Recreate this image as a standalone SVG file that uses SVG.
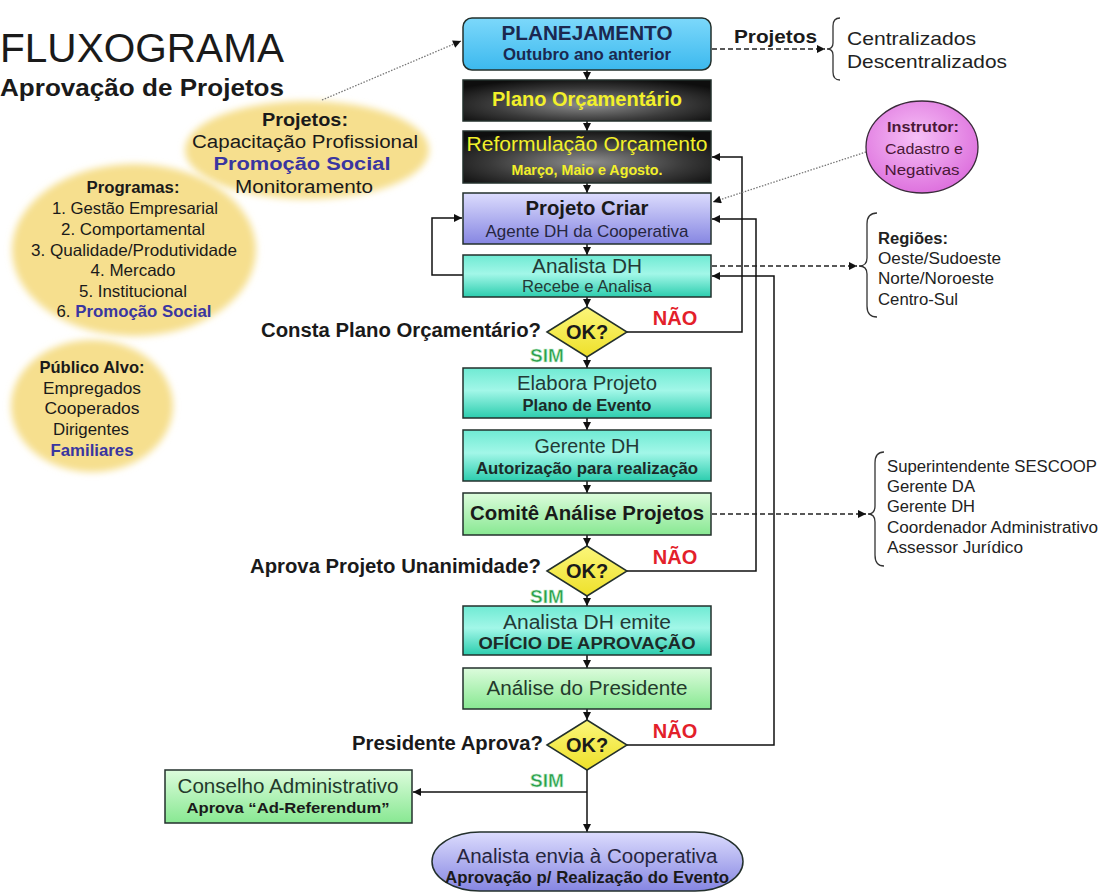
<svg xmlns="http://www.w3.org/2000/svg" width="1101" height="892" viewBox="0 0 1101 892">
  <defs>
    <style>
      text { font-family: "Liberation Sans", Arial, sans-serif; fill: #1a1a1a; }
      .b { font-weight: bold; }
      .mid { text-anchor: middle; }
      .end { text-anchor: end; }
      .box { stroke: #23302c; stroke-width: 1.5; }
      .yel { fill: #f2f02a; }
      .blue { fill: #3a36a0; }
      .nao { fill: #e3202a; font-weight: bold; font-size: 20px; text-anchor: middle; }
      .sim { fill: #2a9d4c; font-weight: bold; font-size: 19px; text-anchor: middle; stroke: #c8f0d0; stroke-width: 0.6; }
      .cond { font-weight: bold; font-size: 20px; text-anchor: end; }
      .ok { font-weight: bold; font-size: 20px; text-anchor: middle; }
      .list { font-size: 16px; fill: #222; }
      .line { fill: none; stroke: #111; stroke-width: 1.5; }
      .dash { fill: none; stroke: #222; stroke-width: 1.3; stroke-dasharray: 5 3; }
      .dot { fill: none; stroke: #777; stroke-width: 1.3; stroke-dasharray: 1.5 1.5; }
      .brace { fill: none; stroke: #333; stroke-width: 1.3; }
    </style>
    <marker id="arr" viewBox="0 0 10 10" refX="10" refY="5" markerWidth="9" markerHeight="8" markerUnits="userSpaceOnUse" orient="auto">
      <path d="M0,0 L10,5 L0,10 z" fill="#111"/>
    </marker>
    <linearGradient id="gSky" x1="0" y1="0" x2="0" y2="1">
      <stop offset="0" stop-color="#7cd8fb"/>
      <stop offset="1" stop-color="#3cb9ee"/>
    </linearGradient>
    <radialGradient id="gDark" cx="0.5" cy="0.6" r="0.65">
      <stop offset="0" stop-color="#8e8e8e"/>
      <stop offset="0.6" stop-color="#3a3a3a"/>
      <stop offset="1" stop-color="#0e0e0e"/>
    </radialGradient>
    <linearGradient id="gLav" x1="0" y1="0" x2="0" y2="1">
      <stop offset="0" stop-color="#dcdcfd"/>
      <stop offset="1" stop-color="#8686e2"/>
    </linearGradient>
    <linearGradient id="gCyan" x1="0" y1="0" x2="0" y2="1">
      <stop offset="0" stop-color="#6fead3"/>
      <stop offset="0.45" stop-color="#a2f7e8"/>
      <stop offset="1" stop-color="#2ccdae"/>
    </linearGradient>
    <linearGradient id="gGreen" x1="0" y1="0" x2="0" y2="1">
      <stop offset="0" stop-color="#dcfcdc"/>
      <stop offset="1" stop-color="#88e892"/>
    </linearGradient>
    <linearGradient id="gDia" x1="0" y1="0" x2="0" y2="1">
      <stop offset="0" stop-color="#fbf67a"/>
      <stop offset="1" stop-color="#eee02a"/>
    </linearGradient>
    <radialGradient id="gPink" cx="0.45" cy="0.4" r="0.6">
      <stop offset="0" stop-color="#f6c0f6"/>
      <stop offset="1" stop-color="#de72de"/>
    </radialGradient>
    <filter id="soft" x="-10%" y="-10%" width="120%" height="120%">
      <feGaussianBlur stdDeviation="3.5"/>
    </filter>
  </defs>

  <rect width="1101" height="892" fill="#ffffff"/>

  <!-- title -->
  <g id="title">
    <text x="0" y="62" font-size="40" textLength="284" lengthAdjust="spacingAndGlyphs">FLUXOGRAMA</text>
    <text x="0" y="96" font-size="24" class="b" textLength="284" lengthAdjust="spacingAndGlyphs">Aprovação de Projetos</text>
  </g>

  <!-- yellow info bubbles -->
  <g id="bubble-projetos">
    <ellipse cx="307" cy="150" rx="122" ry="49" fill="#f6df8e" filter="url(#soft)"/>
    <text x="305" y="126" font-size="18" class="b mid" textLength="86" lengthAdjust="spacingAndGlyphs">Projetos:</text>
    <text x="305" y="148" font-size="18" class="mid" textLength="226" lengthAdjust="spacingAndGlyphs">Capacitação Profissional</text>
    <text x="302" y="170" font-size="18" class="b mid blue" textLength="177" lengthAdjust="spacingAndGlyphs">Promoção Social</text>
    <text x="304" y="193" font-size="18" class="mid" textLength="138" lengthAdjust="spacingAndGlyphs">Monitoramento</text>
  </g>

  <g id="bubble-programas">
    <ellipse cx="134" cy="250" rx="122" ry="86" fill="#f6df8e" filter="url(#soft)"/>
    <text x="133" y="193" font-size="16" class="b mid" textLength="93" lengthAdjust="spacingAndGlyphs">Programas:</text>
    <text x="135" y="214" font-size="16.5" class="mid" textLength="166" lengthAdjust="spacingAndGlyphs">1. Gestão Empresarial</text>
    <text x="133" y="235" font-size="16.5" class="mid" textLength="144" lengthAdjust="spacingAndGlyphs">2. Comportamental</text>
    <text x="134" y="256" font-size="16.5" class="mid" textLength="206" lengthAdjust="spacingAndGlyphs">3. Qualidade/Produtividade</text>
    <text x="133" y="276" font-size="16.5" class="mid" textLength="85" lengthAdjust="spacingAndGlyphs">4. Mercado</text>
    <text x="133" y="297" font-size="16.5" class="mid" textLength="108" lengthAdjust="spacingAndGlyphs">5. Institucional</text>
    <text x="134" y="317" font-size="16.5" class="mid" textLength="155" lengthAdjust="spacingAndGlyphs">6. <tspan class="b blue">Promoção Social</tspan></text>
  </g>

  <g id="bubble-publico">
    <ellipse cx="92" cy="406" rx="81" ry="66" fill="#f6df8e" filter="url(#soft)"/>
    <text x="92" y="373" font-size="16.5" class="b mid" textLength="105" lengthAdjust="spacingAndGlyphs">Público Alvo:</text>
    <text x="92" y="394" font-size="16.5" class="mid" textLength="98" lengthAdjust="spacingAndGlyphs">Empregados</text>
    <text x="92" y="414" font-size="16.5" class="mid" textLength="95" lengthAdjust="spacingAndGlyphs">Cooperados</text>
    <text x="91" y="435" font-size="16.5" class="mid" textLength="76" lengthAdjust="spacingAndGlyphs">Dirigentes</text>
    <text x="92" y="456" font-size="16.5" class="b mid blue" textLength="83" lengthAdjust="spacingAndGlyphs">Familiares</text>
  </g>

  <!-- connectors -->
  <g id="connectors">
    <path class="line" d="M587 70 V80" marker-end="url(#arr)"/>
    <path class="line" d="M587 121 V131" marker-end="url(#arr)"/>
    <path class="line" d="M587 183 V193" marker-end="url(#arr)"/>
    <path class="line" d="M587 244 V255" marker-end="url(#arr)"/>
    <path class="line" d="M587 297 V307" marker-end="url(#arr)"/>
    <path class="line" d="M587 357 V368" marker-end="url(#arr)"/>
    <path class="line" d="M587 418 V430" marker-end="url(#arr)"/>
    <path class="line" d="M587 481 V493" marker-end="url(#arr)"/>
    <path class="line" d="M587 535 V546" marker-end="url(#arr)"/>
    <path class="line" d="M587 596 V606" marker-end="url(#arr)"/>
    <path class="line" d="M587 655 V668" marker-end="url(#arr)"/>
    <path class="line" d="M587 709 V720" marker-end="url(#arr)"/>
    <path class="line" d="M587 770 V832" marker-end="url(#arr)"/>
    <path class="line" d="M587 792 H413" marker-end="url(#arr)"/>
    <!-- return loops -->
    <path class="line" d="M627 332 H742 V157 H712" marker-end="url(#arr)"/>
    <path class="line" d="M627 571 H756 V219 H712" marker-end="url(#arr)"/>
    <path class="line" d="M627 745 H774 V276 H712" marker-end="url(#arr)"/>
    <path class="line" d="M463 275 H432 V218 H462" marker-end="url(#arr)"/>
    <!-- side references -->
    <path class="dash" d="M712 49 H825" marker-end="url(#arr)"/>
    <path class="dash" d="M712 266 H857" marker-end="url(#arr)"/>
    <path class="dash" d="M712 514 H866" marker-end="url(#arr)"/>
    <path class="dot" d="M322 100 L461 41" marker-end="url(#arr)"/>
    <path class="dot" d="M866 152 L713 202" marker-end="url(#arr)"/>
    <!-- braces -->
    <path class="brace" d="M840 18 Q833 18 833 26 L833 43 Q833 49 827 49 Q833 49 833 55 L833 72 Q833 80 840 80"/>
    <path class="brace" d="M877 213 Q867 213 867 224 L867 258 Q867 266 859 266 Q867 266 867 274 L867 306 Q867 317 877 317"/>
    <path class="brace" d="M884 452 Q875 452 875 463 L875 506 Q875 514 868 514 Q875 514 875 522 L875 555 Q875 566 884 566"/>
  </g>

  <!-- main column -->
  <g id="planejamento">
    <rect x="463" y="18" width="248" height="52" rx="9" fill="url(#gSky)" class="box"/>
    <text x="587" y="40" font-size="20" class="b mid" style="fill:#1b2850" textLength="171" lengthAdjust="spacingAndGlyphs">PLANEJAMENTO</text>
    <text x="587" y="60" font-size="16.5" class="b mid" style="fill:#1b2850" textLength="168" lengthAdjust="spacingAndGlyphs">Outubro ano anterior</text>
  </g>

  <g id="plano-orcamentario">
    <rect x="463" y="80" width="248" height="41" fill="url(#gDark)" class="box"/>
    <text x="587" y="106" font-size="20" class="b mid yel" textLength="190" lengthAdjust="spacingAndGlyphs">Plano Orçamentário</text>
  </g>

  <g id="reformulacao">
    <rect x="463" y="131" width="248" height="52" fill="url(#gDark)" class="box"/>
    <text x="587" y="151" font-size="20" class="mid yel" textLength="241" lengthAdjust="spacingAndGlyphs">Reformulação Orçamento</text>
    <text x="587" y="175" font-size="15" class="b mid yel" textLength="151" lengthAdjust="spacingAndGlyphs">Março, Maio e Agosto.</text>
  </g>

  <g id="projeto-criar">
    <rect x="463" y="193" width="248" height="51" fill="url(#gLav)" class="box"/>
    <text x="587" y="215" font-size="20" class="b mid" textLength="123" lengthAdjust="spacingAndGlyphs">Projeto Criar</text>
    <text x="587" y="237" font-size="17" class="mid" style="fill:#262640" textLength="203" lengthAdjust="spacingAndGlyphs">Agente DH da Cooperativa</text>
  </g>

  <g id="analista-dh">
    <rect x="463" y="255" width="248" height="42" fill="url(#gCyan)" class="box"/>
    <text x="587" y="273" font-size="20" class="mid" style="fill:#233a36" textLength="110" lengthAdjust="spacingAndGlyphs">Analista DH</text>
    <text x="587" y="292" font-size="16.5" class="mid" style="fill:#233a36" textLength="130" lengthAdjust="spacingAndGlyphs">Recebe e Analisa</text>
  </g>

  <g id="decisao-plano">
    <polygon points="547,332 587,307 627,332 587,357" fill="url(#gDia)" class="box"/>
    <text x="587" y="339" class="ok">OK?</text>
    <text x="541" y="337" class="cond" textLength="280" lengthAdjust="spacingAndGlyphs">Consta Plano Orçamentário?</text>
    <text x="675" y="325" class="nao">NÃO</text>
    <text x="547" y="362" class="sim">SIM</text>
  </g>

  <g id="elabora-projeto">
    <rect x="463" y="368" width="248" height="50" fill="url(#gCyan)" class="box"/>
    <text x="587" y="390" font-size="20" class="mid" style="fill:#233a36" textLength="140" lengthAdjust="spacingAndGlyphs">Elabora Projeto</text>
    <text x="587" y="411" font-size="16" class="b mid" style="fill:#1c2a28" textLength="129" lengthAdjust="spacingAndGlyphs">Plano de Evento</text>
  </g>

  <g id="gerente-dh">
    <rect x="463" y="430" width="248" height="51" fill="url(#gCyan)" class="box"/>
    <text x="587" y="453" font-size="20" class="mid" style="fill:#233a36" textLength="105" lengthAdjust="spacingAndGlyphs">Gerente DH</text>
    <text x="587" y="474" font-size="16" class="b mid" style="fill:#1c2a28" textLength="222" lengthAdjust="spacingAndGlyphs">Autorização para realização</text>
  </g>

  <g id="comite">
    <rect x="463" y="493" width="248" height="42" fill="url(#gGreen)" class="box"/>
    <text x="587" y="520" font-size="20" class="b mid" textLength="234" lengthAdjust="spacingAndGlyphs">Comitê Análise Projetos</text>
  </g>

  <g id="decisao-comite">
    <polygon points="547,571 587,546 627,571 587,596" fill="url(#gDia)" class="box"/>
    <text x="587" y="578" class="ok">OK?</text>
    <text x="541" y="573" class="cond" textLength="291" lengthAdjust="spacingAndGlyphs">Aprova Projeto Unanimidade?</text>
    <text x="675" y="564" class="nao">NÃO</text>
    <text x="547" y="603" class="sim">SIM</text>
  </g>

  <g id="oficio">
    <rect x="463" y="606" width="248" height="49" fill="url(#gCyan)" class="box"/>
    <text x="587" y="629" font-size="20" class="mid" style="fill:#233a36" textLength="168" lengthAdjust="spacingAndGlyphs">Analista DH emite</text>
    <text x="587" y="649" font-size="16" class="b mid" style="fill:#1c2a28" textLength="217" lengthAdjust="spacingAndGlyphs">OFÍCIO DE APROVAÇÃO</text>
  </g>

  <g id="analise-presidente">
    <rect x="463" y="668" width="248" height="41" fill="url(#gGreen)" class="box"/>
    <text x="587" y="695" font-size="20" class="mid" style="fill:#243a2c" textLength="201" lengthAdjust="spacingAndGlyphs">Análise do Presidente</text>
  </g>

  <g id="decisao-presidente">
    <polygon points="547,745 587,720 627,745 587,770" fill="url(#gDia)" class="box"/>
    <text x="587" y="752" class="ok">OK?</text>
    <text x="543" y="750" class="cond" textLength="191" lengthAdjust="spacingAndGlyphs">Presidente Aprova?</text>
    <text x="675" y="738" class="nao">NÃO</text>
    <text x="547" y="787" class="sim">SIM</text>
  </g>

  <g id="conselho">
    <rect x="165" y="770" width="247" height="53" fill="url(#gGreen)" class="box"/>
    <text x="288" y="793" font-size="20" class="mid" style="fill:#243a2c" textLength="221" lengthAdjust="spacingAndGlyphs">Conselho Administrativo</text>
    <text x="288" y="813" font-size="15" class="b mid" textLength="203" lengthAdjust="spacingAndGlyphs">Aprova “Ad-Referendum”</text>
  </g>

  <g id="envio-cooperativa">
    <rect x="432" y="832" width="311" height="59" rx="48" ry="29.5" fill="url(#gLav)" class="box"/>
    <text x="587" y="863" font-size="20" class="mid" style="fill:#262640" textLength="261" lengthAdjust="spacingAndGlyphs">Analista envia à Cooperativa</text>
    <text x="587" y="883" font-size="16.5" class="b mid" textLength="284" lengthAdjust="spacingAndGlyphs">Aprovação p/ Realização do Evento</text>
  </g>

  <!-- side notes -->
  <g id="tipos-projeto">
    <text x="734" y="43" font-size="19" class="b" textLength="83" lengthAdjust="spacingAndGlyphs">Projetos</text>
    <text x="847" y="45" font-size="19" style="fill:#222" textLength="129" lengthAdjust="spacingAndGlyphs">Centralizados</text>
    <text x="847" y="68" font-size="19" style="fill:#222" textLength="160" lengthAdjust="spacingAndGlyphs">Descentralizados</text>
  </g>

  <g id="instrutor">
    <ellipse cx="922" cy="147" rx="56" ry="46" fill="url(#gPink)" stroke="#3a2a3a" stroke-width="1.3"/>
    <text x="923" y="132" font-size="15" class="b mid" style="fill:#4a1838" textLength="72" lengthAdjust="spacingAndGlyphs">Instrutor:</text>
    <text x="924" y="154" font-size="15.5" class="mid" style="fill:#4a1838" textLength="78" lengthAdjust="spacingAndGlyphs">Cadastro e</text>
    <text x="922" y="175" font-size="15.5" class="mid" style="fill:#4a1838" textLength="75" lengthAdjust="spacingAndGlyphs">Negativas</text>
  </g>

  <g id="regioes">
    <text x="878" y="244" class="list b" textLength="70" lengthAdjust="spacingAndGlyphs">Regiões:</text>
    <text x="878" y="264" class="list" textLength="123" lengthAdjust="spacingAndGlyphs">Oeste/Sudoeste</text>
    <text x="878" y="284" class="list" textLength="116" lengthAdjust="spacingAndGlyphs">Norte/Noroeste</text>
    <text x="878" y="305" class="list" textLength="80" lengthAdjust="spacingAndGlyphs">Centro-Sul</text>
  </g>

  <g id="membros-comite">
    <text x="887" y="472" class="list" textLength="210" lengthAdjust="spacingAndGlyphs">Superintendente SESCOOP</text>
    <text x="887" y="492" class="list" textLength="88" lengthAdjust="spacingAndGlyphs">Gerente DA</text>
    <text x="887" y="512" class="list" textLength="88" lengthAdjust="spacingAndGlyphs">Gerente DH</text>
    <text x="887" y="533" class="list" textLength="211" lengthAdjust="spacingAndGlyphs">Coordenador Administrativo</text>
    <text x="887" y="553" class="list" textLength="136" lengthAdjust="spacingAndGlyphs">Assessor Jurídico</text>
  </g>
</svg>
